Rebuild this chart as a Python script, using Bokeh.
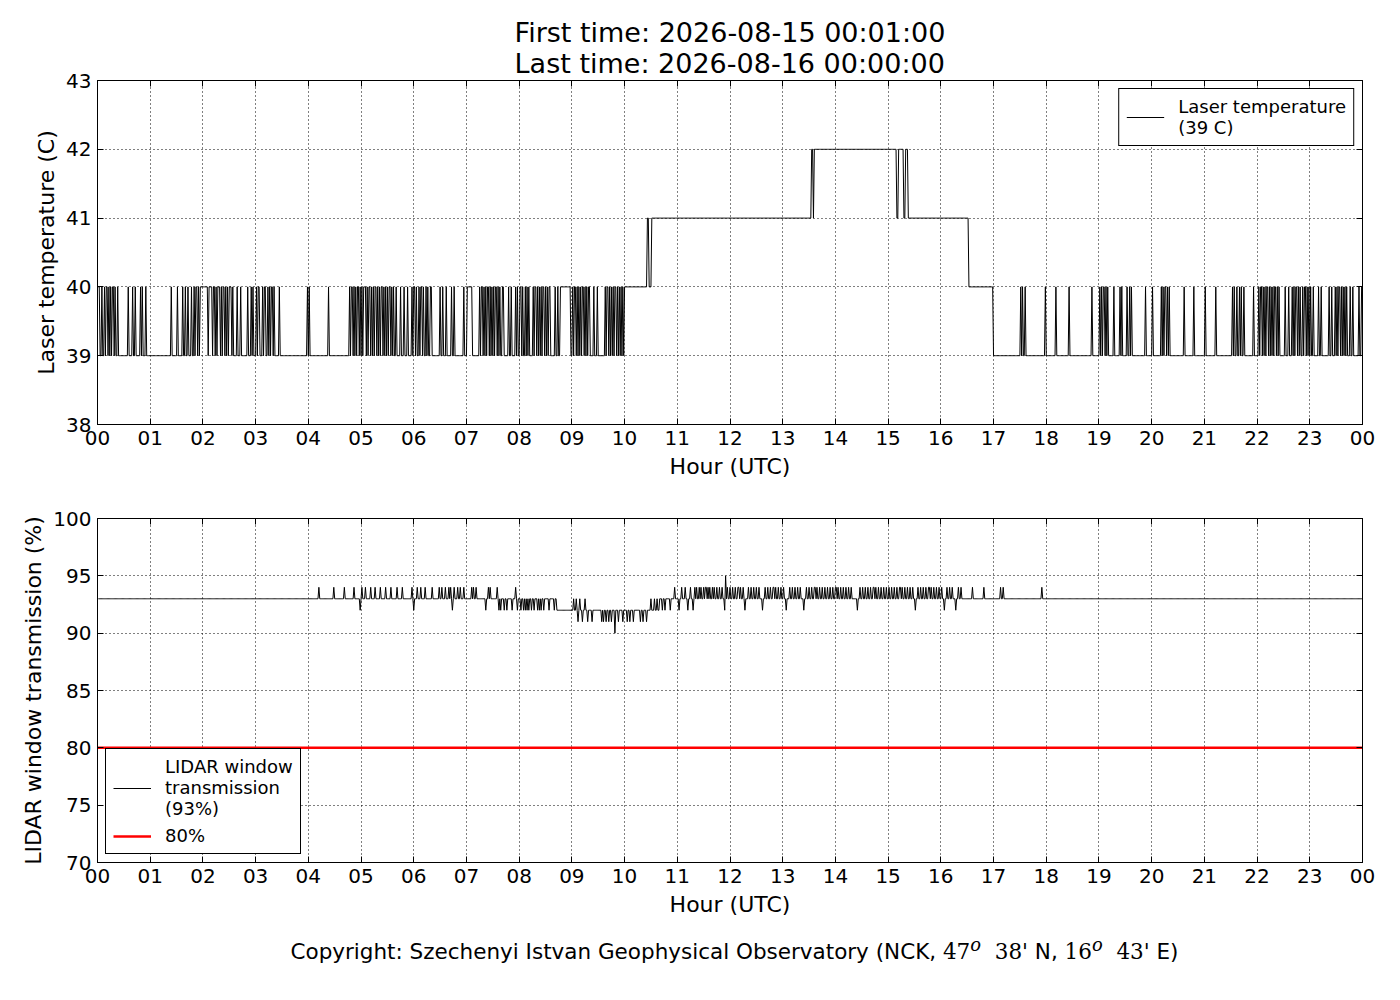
import numpy as np
from bokeh.plotting import figure
from bokeh.models import FixedTicker, LinearAxis, Legend, LegendItem, Div, Range1d
from bokeh.layouts import column
from bokeh.embed import file_html
from bokeh.resources import INLINE

# ---------------- data (minutes of the day, 1..1440) ----------------
hour_ticks = list(range(25))
hour_labels = ["00", "01", "02", "03", "04", "05", "06", "07", "08", "09", "10", "11",
               "12", "13", "14", "15", "16", "17", "18", "19", "20", "21", "22", "23", "00"]
temp_ticks = [38, 39, 40, 41, 42, 43]
lidar_ticks = [70, 75, 80, 85, 90, 95, 100]

title_text = "First time: 2026-08-15 00:01:00\nLast time: 2026-08-16 00:00:00"

# laser temperature: base levels (start minute, end minute, value)
temp_base = [(1, 600, 39), (600, 626, 40), (626, 813, 41), (813, 923, 42),
             (923, 992, 41), (992, 1020, 40), (1020, 1441, 39)]
# flickers within the steps (start minute, length, value)
temp_flicker = [(628, 3, 40), (815, 1, 41), (910, 2, 41), (918, 2, 41)]
# spikes up to 40 C while at 39 C (start minute, length)
temp_spikes_40 = [
    (1, 2), (5, 1), (8, 1), (10, 2), (13, 1), (15, 1), (17, 2), (20, 1), (23, 1), (35, 1),
    (40, 1), (43, 1), (49, 1), (51, 1), (55, 1),
    (84, 1), (91, 1), (97, 1), (100, 1), (103, 1), (107, 1), (110, 1), (112, 2), (115, 1),
    (117, 9), (127, 4), (132, 2), (135, 1), (137, 3), (141, 1), (143, 2), (146, 1), (148, 1),
    (150, 3), (154, 1), (159, 1), (163, 1), (171, 1), (175, 1), (177, 1),
    (181, 1), (183, 2), (188, 1), (190, 2), (194, 1), (196, 1), (198, 2), (201, 1), (207, 1),
    (239, 1), (241, 1), (263, 1),
    (287, 1), (289, 2), (292, 1), (294, 1), (296, 2), (299, 1), (301, 1), (303, 3), (307, 1),
    (309, 2), (312, 1), (314, 1), (316, 2), (319, 1), (321, 1), (323, 2), (326, 1), (328, 1),
    (330, 1), (332, 2), (335, 1), (337, 1), (340, 1),
    (345, 1), (349, 1), (353, 1),
    (358, 1), (360, 2), (363, 1), (366, 1), (368, 2), (371, 1), (374, 1), (376, 1), (379, 2),
    (390, 1), (393, 1), (397, 1), (403, 1), (406, 1), (417, 1), (421, 6),
    (435, 1), (437, 2), (440, 1), (442, 1), (444, 2), (447, 1), (449, 1), (451, 1), (453, 2),
    (456, 1), (458, 1), (461, 2), (468, 1), (471, 1),
    (476, 1), (478, 1), (481, 2), (484, 1), (487, 1), (489, 1), (491, 1),
    (496, 1), (498, 2), (501, 1), (503, 1), (505, 1), (507, 2), (510, 1), (512, 1), (514, 2),
    (521, 1), (524, 1), (527, 12),
    (541, 1), (543, 2), (546, 1), (548, 1), (550, 1), (552, 2), (555, 1), (557, 1), (559, 2),
    (565, 1), (569, 1),
    (578, 1), (580, 2), (583, 1), (585, 1), (587, 1), (589, 2), (592, 1), (594, 1), (596, 1),
    (598, 1),
    (1051, 1), (1053, 1), (1056, 1), (1079, 1), (1091, 1), (1106, 1), (1132, 1), (1141, 1),
    (1143, 1), (1145, 2), (1148, 1), (1150, 1), (1157, 1), (1164, 1), (1166, 1), (1172, 1),
    (1175, 1), (1177, 1), (1193, 1), (1201, 1), (1211, 1), (1213, 1), (1215, 2), (1218, 1),
    (1220, 1), (1237, 1), (1248, 1), (1261, 1), (1273, 1), (1292, 1), (1294, 1), (1297, 1),
    (1300, 1), (1302, 1), (1305, 1), (1316, 1), (1322, 1), (1324, 2), (1327, 1), (1329, 1),
    (1331, 2), (1334, 1), (1336, 1), (1338, 1), (1340, 2), (1343, 1), (1345, 1), (1352, 1),
    (1356, 1), (1360, 1), (1362, 1), (1364, 2), (1367, 1), (1369, 1), (1372, 1), (1374, 2),
    (1377, 1), (1379, 1), (1381, 1), (1384, 1), (1390, 1), (1393, 1), (1402, 1), (1405, 1),
    (1409, 1), (1411, 1), (1413, 2), (1416, 1), (1418, 1), (1420, 1), (1422, 1), (1426, 1),
    (1429, 1), (1436, 1), (1439, 2),
]

# LIDAR window transmission: base levels
lidar_base = [(1, 523, 93), (523, 640, 92), (640, 1441, 93)]
lidar_up_94 = [252, 269, 281, 292, 301, 305, 311, 316, 322, 328, 334, 341, 347, 358, 364, 368,
               373, 381, 389, 392, 396, 400, 402, 406, 410, 413, 417, 426, 428, 431, 445, 447,
               455, 476,
               657, 665, 669, 675, 680, 682, 685, 687, 690, 692, 695, 697, 700, 702, 705, 708,
               711, 717, 720, 723, 726, 729, 732, 735, 741, 744, 747, 750, 753, 760, 763, 766,
               769, 772, 775, 778, 781, 788, 791, 794, 797, 800, 807, 810, 813, 816, 819, 822,
               825, 828, 831, 834, 837, 840, 843, 846, 849, 852, 855, 858, 868, 871, 874, 877,
               880, 883, 886, 889, 892, 895, 898, 901, 904, 907, 910, 913, 916, 919, 922, 925,
               928, 934, 937, 940, 943, 946, 949, 952, 955, 958, 961, 967, 970, 973, 980, 983,
               996, 1009, 1028, 1031, 1075]
lidar_up_94_wide = [692, 729, 769, 816, 840, 883, 913, 946]
lidar_dip_92 = [299, 360, 404, 442, 457, 459, 463, 466, 472, 478, 482, 485, 487, 489, 491, 494,
                497, 501, 503, 505, 508, 514, 520,
                643, 646, 652, 662, 672, 678, 714, 737, 757, 784, 804, 865, 931, 964, 977]
lidar_up_93 = [542, 545, 549, 555, 630, 634, 637]
lidar_dip_91 = [547, 552, 558, 563, 574, 576, 579, 582, 585, 593, 598, 603, 606, 610, 618,
                621, 625]
lidar_dip_90 = [589]
lidar_up_95 = [715]
lidar_threshold = 80


def build(base, events):
    minutes = np.arange(1, 1441)
    vals = np.zeros(len(minutes))
    for s, e, v in base:
        vals[(minutes >= s) & (minutes < e)] = v
    for s, n, v in events:
        vals[(minutes >= s) & (minutes < s + n)] = v
    return minutes / 60.0, vals


temp_events = [(s, n, 40) for s, n in temp_spikes_40] + temp_flicker
t_hours, t_vals = build(temp_base, temp_events)

lidar_events = ([(s, 1, 94) for s in lidar_up_94] + [(s, 2, 94) for s in lidar_up_94_wide]
                + [(s, 1, 92) for s in lidar_dip_92] + [(s, 1, 93) for s in lidar_up_93]
                + [(s, 1, 91) for s in lidar_dip_91] + [(s, 1, 90) for s in lidar_dip_90]
                + [(s, 1, 95) for s in lidar_up_95])
l_hours, l_vals = build(lidar_base, lidar_events)

FONT = "DejaVu Sans"


def make_fig(y0, y1, yticks, ylabel, top_border):
    p = figure(frame_width=1265, frame_height=344, output_backend="svg", toolbar_location=None,
               x_range=Range1d(0, 24), y_range=Range1d(y0, y1),
               min_border_left=97, min_border_right=30, min_border_top=top_border,
               min_border_bottom=64, background_fill_color="white",
               border_fill_color="white", outline_line_color="black", outline_line_width=1)
    xt = FixedTicker(ticks=hour_ticks)
    yt = FixedTicker(ticks=yticks)
    p.xaxis.ticker = xt
    p.yaxis.ticker = yt
    p.xaxis.major_label_overrides = {t: lab for t, lab in zip(hour_ticks, hour_labels)}
    p.xaxis.axis_label = "Hour (UTC)"
    p.yaxis.axis_label = ylabel
    for ax in (p.xaxis[0], p.yaxis[0]):
        ax.major_tick_in = 6
        ax.major_tick_out = 0
        ax.minor_tick_in = 0
        ax.minor_tick_out = 0
        ax.axis_line_color = "black"
        ax.major_tick_line_color = "black"
        ax.major_label_text_font = FONT
        ax.major_label_text_font_size = "20px"
        ax.major_label_text_color = "black"
        ax.axis_label_text_font = FONT
        ax.axis_label_text_font_size = "22px"
        ax.axis_label_text_font_style = "normal"
        ax.axis_label_text_color = "black"
    p.xaxis.major_label_standoff = 6
    p.xaxis.axis_label_standoff = 6
    p.yaxis.major_label_standoff = 6
    p.yaxis.axis_label_standoff = 4
    for loc, tk in (("above", xt), ("right", yt)):
        ax = LinearAxis(ticker=tk, major_tick_in=6, major_tick_out=0, minor_tick_in=0,
                        minor_tick_out=0, major_label_standoff=0,
                        major_label_text_font_size="1px", axis_line_color="black",
                        major_tick_line_color="black")
        ax.major_label_overrides = {t: "" for t in tk.ticks}
        p.add_layout(ax, loc)
    for g, tk in ((p.xgrid[0], xt), (p.ygrid[0], yt)):
        g.ticker = tk
        g.grid_line_color = "black"
        g.grid_line_alpha = 1
        g.grid_line_dash = "1 3"
        g.grid_line_width = 1
    return p


p1 = make_fig(38, 43, temp_ticks, "Laser temperature (C)", 80)
p1.title.text = title_text
p1.title.align = "center"
p1.title.text_font = FONT
p1.title.text_font_size = "27px"
p1.title.text_font_style = "normal"
p1.title.text_color = "black"
p1.title.standoff = 4

r1 = p1.line(t_hours, t_vals, line_color="black", line_width=1)
leg1 = Legend(items=[LegendItem(label="Laser temperature\n(39 C)", renderers=[r1])],
              location="top_right")

p2 = make_fig(70, 100, lidar_ticks, "LIDAR window transmission (%)", 30)
r2 = p2.line(l_hours, l_vals, line_color="black", line_width=1)
thr_x = [l_hours[0] - 1 / 60.0, l_hours[-1]]
r3 = p2.line(thr_x, [lidar_threshold, lidar_threshold], line_color="red", line_width=2.5)
leg2 = Legend(items=[LegendItem(label="LIDAR window\ntransmission\n(93%)", renderers=[r2]),
                     LegendItem(label="80%", renderers=[r3])],
              location="bottom_left")

for p, leg in ((p1, leg1), (p2, leg2)):
    leg.border_line_color = "black"
    leg.border_line_width = 1
    leg.border_line_alpha = 1
    leg.background_fill_color = "white"
    leg.background_fill_alpha = 1
    leg.label_text_font = FONT
    leg.label_text_font_size = "18px"
    leg.label_text_color = "black"
    leg.glyph_width = 38
    leg.label_standoff = 14
    leg.padding = 7
    leg.margin = 8
    leg.spacing = 6
    p.add_layout(leg)

copyright_div = Div(
    text=("<div style=\"width:1265px; margin-left:97px; margin-top:1px; text-align:center; "
          "font-family:'DejaVu Sans'; font-size:21.5px; color:black;\">"
          "Copyright: Szechenyi Istvan Geophysical Observatory (NCK, "
          "<span style=\"font-family:'DejaVu Serif'\">47<sup><i>o</i></sup>&nbsp;&nbsp;38'</span> N, "
          "<span style=\"font-family:'DejaVu Serif'\">16<sup><i>o</i></sup>&nbsp;&nbsp;43'</span> E)"
          "</div>"),
    width=1392, height=50)

layout = column(p1, p2, copyright_div, spacing=0)
open("out.html", "w").write(file_html(layout, INLINE))
